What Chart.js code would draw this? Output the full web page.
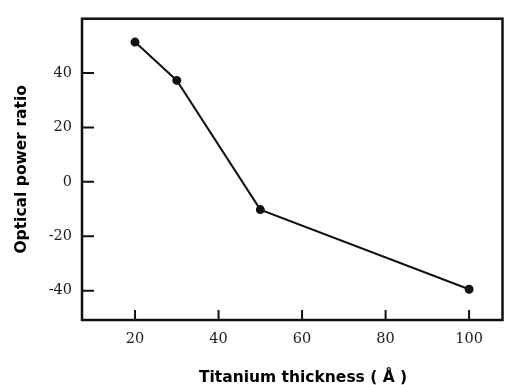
<!DOCTYPE html>
<html>
<head>
<meta charset="utf-8">
<script src="https://cdn.jsdelivr.net/npm/chart.js@4"></script>
<style>
html,body{margin:0;padding:0;background:#fff;overflow:hidden;}
#wrap{width:505px;height:385px;overflow:hidden;}
</style>
</head>
<body>
<div id="wrap"><canvas id="c" width="508" height="385"></canvas></div>
<script>
const thickness = [20, 30, 50, 100];
const powerRatio = [51.4, 37.3, -10.2, -39.5];
const xTickValues = [20, 40, 60, 80, 100];
const yTickValues = [-40, -20, 0, 20, 40];
const xTitle = '    Titanium thickness ( Å )';
const yTitle = 'Optical power ratio';

const ink = '#111';

const framePlugin = {
  id: 'frame',
  afterDatasetsDraw(chart) {
    const ctx = chart.ctx, a = chart.chartArea;
    ctx.save();
    ctx.strokeStyle = ink;
    ctx.lineWidth = 2.5;
    ctx.strokeRect(a.left, a.top, a.right - a.left, a.bottom - a.top);
    ctx.lineWidth = 2;
    const xs = chart.scales.x, ys = chart.scales.y;
    ctx.beginPath();
    xs.ticks.forEach((t, i) => {
      const px = xs.getPixelForTick(i);
      ctx.moveTo(px, a.bottom);
      ctx.lineTo(px, a.bottom - 10);
    });
    ys.ticks.forEach((t, i) => {
      const py = ys.getPixelForTick(i);
      ctx.moveTo(a.left, py);
      ctx.lineTo(a.left + 12, py);
    });
    ctx.stroke();
    ctx.restore();
  }
};

new Chart(document.getElementById('c'), {
  type: 'scatter',
  data: {
    datasets: [{
      data: thickness.map((x, i) => ({x: x, y: powerRatio[i]})),
      showLine: true,
      borderColor: ink,
      backgroundColor: ink,
      borderWidth: 2,
      pointRadius: 3.5,
      pointHoverRadius: 3.5,
      tension: 0
    }]
  },
  options: {
    responsive: false,
    animation: false,
    events: [],
    layout: {padding: {left: 0, right: 0, top: 13, bottom: 0}},
    plugins: {legend: {display: false}, tooltip: {enabled: false}},
    scales: {
      x: {
        type: 'linear',
        min: 7.3,
        max: 108,
        afterBuildTicks(s) { s.ticks = xTickValues.map(v => ({value: v})); },
        afterFit(s) { s.height = 65; },
        grid: {display: false, drawTicks: false},
        border: {display: false},
        ticks: {
          color: '#1a1a1a',
          padding: 11,
          maxRotation: 0,
          font: {family: 'DejaVu Serif', size: 14.5}
        },
        title: {
          display: true,
          text: xTitle,
          color: '#000',
          padding: {top: 0, bottom: -2.5},
          font: {family: 'DejaVu Sans', size: 15.5, weight: 'bold'}
        }
      },
      y: {
        type: 'linear',
        min: -50.8,
        max: 60,
        afterBuildTicks(s) { s.ticks = yTickValues.map(v => ({value: v})); },
        afterFit(s) { s.width = 82; },
        grid: {display: false, drawTicks: false},
        border: {display: false},
        ticks: {
          color: '#1a1a1a',
          padding: 10,
          font: {family: 'DejaVu Serif', size: 14.5}
        },
        title: {
          display: true,
          text: yTitle,
          color: '#000',
          padding: {top: 13, bottom: 0},
          font: {family: 'DejaVu Sans', size: 15.5, weight: 'bold'}
        }
      }
    }
  },
  plugins: [framePlugin]
});
</script>
</body>
</html>
